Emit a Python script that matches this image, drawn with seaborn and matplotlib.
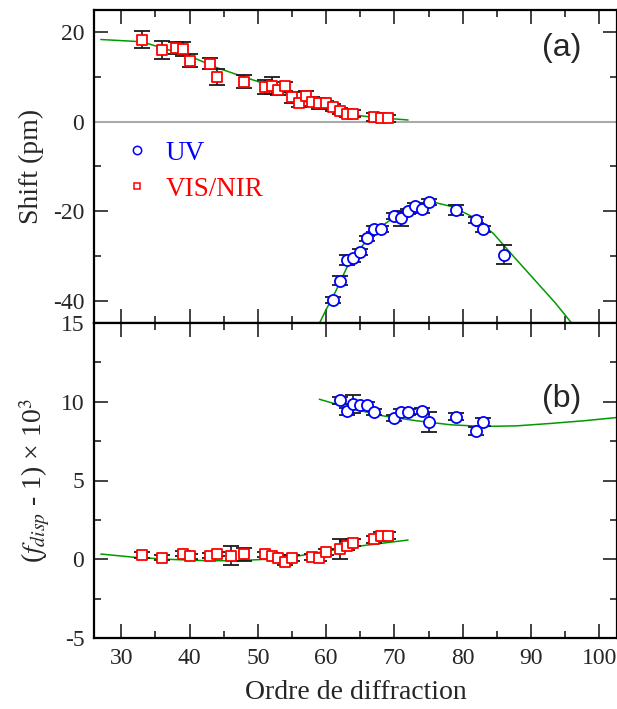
import numpy as np
import pandas as pd
import seaborn as sns
import matplotlib.pyplot as plt
from matplotlib.lines import Line2D
from matplotlib.ticker import MultipleLocator

# --- (a) shift, VIS/NIR orders
vis_order_a = [33, 36, 38, 39, 40, 43, 44, 48, 51, 52, 53, 54, 55, 56, 57, 58, 59, 60, 61, 62, 63, 64, 67, 68, 69]
vis_shift = [18.4, 16.1, 16.5, 16.3, 13.7, 13.0, 10.0, 9.0, 7.8, 8.1, 7.0, 7.9, 5.5, 4.2, 5.8, 4.5, 4.1, 4.1,
             3.2, 2.4, 1.8, 1.8, 1.0, 0.8, 0.8]
vis_shift_err = [1.85, 2.0, 1.4, 1.5, 1.5, 1.2, 1.8, 1.4, 1.6, 1.9, 0.9, 1.1, 1.2, 1.0, 1.1, 1.0, 1.3, 0.6,
                 0.7, 0.7, 0.8, 0.8, 0.9, 0.8, 0.8]
# --- (a) shift, UV orders
uv_order_a = [61, 62, 63, 64, 65, 66, 67, 68, 70, 71, 72, 73, 74, 75, 79, 82, 83, 86]
uv_shift = [-39.8, -35.5, -30.9, -30.5, -29.2, -26.1, -24.0, -24.0, -21.1, -21.6, -20.0, -18.8, -19.6,
            -17.9, -19.8, -22.0, -24.0, -29.7]
uv_shift_err = [0.7, 1.0, 1.2, 0.8, 0.7, 0.6, 0.7, 0.7, 0.7, 1.7, 0.6, 0.7, 0.8, 0.6, 1.1, 0.6, 0.6, 2.1]

# fitted curves (a)
fit_vis_x_a = [27, 33, 36, 40, 44, 48, 51, 55, 59, 63, 67, 72]
fit_vis_y_a = [18.4, 17.9, 16.5, 14.7, 12.1, 10.0, 8.5, 5.8, 3.2, 1.7, 1.0, 0.4]
fit_uv_x_a = [59, 60, 61.5, 63, 65, 67, 70, 73, 75.5, 78.5, 81.5, 84.5, 87.5, 90.5, 93.5, 96]
fit_uv_y_a = [-45.1, -42.0, -37.6, -32.7, -28.3, -24.6, -21.3, -18.7, -17.9, -19.0, -21.3, -25.0,
              -30.2, -35.3, -40.4, -45.1]

# --- (b) (f_disp - 1) x 1e3
vis_order_b = [33, 36, 39, 40, 43, 44, 46, 48, 51, 52, 53, 54, 55, 58, 59, 60, 62, 63, 64, 67, 68, 69]
vis_fdisp = [0.27, 0.10, 0.36, 0.19, 0.23, 0.33, 0.23, 0.31, 0.33, 0.23, 0.10, -0.17, 0.06, 0.14, 0.06,
             0.46, 0.65, 0.86, 1.06, 1.26, 1.47, 1.5]
vis_fdisp_err = [0.19, 0.15, 0.16, 0.16, 0.16, 0.15, 0.58, 0.4, 0.16, 0.16, 0.16, 0.2, 0.2, 0.2, 0.2,
                 0.2, 0.66, 0.28, 0.2, 0.22, 0.24, 0.2]
uv_order_b = [62, 63, 64, 65, 66, 67, 70, 71, 72, 74, 75, 79, 82, 83]
uv_fdisp = [10.09, 9.40, 9.84, 9.80, 9.80, 9.35, 8.94, 9.35, 9.35, 9.40, 8.72, 9.06, 8.12, 8.70]
uv_fdisp_err = [0.21, 0.21, 0.58, 0.17, 0.17, 0.16, 0.19, 0.19, 0.2, 0.2, 0.65, 0.25, 0.26, 0.26]

fit_vis_x_b = [27, 31.8, 36.7, 41.6, 46.4, 51.3, 56.2, 61.1, 66, 72]
fit_vis_y_b = [0.33, 0.13, 0.0, -0.08, -0.1, 0.0, 0.23, 0.59, 0.9, 1.22]
fit_uv_x_b = [59, 64, 68.4, 73.3, 78.2, 83, 87.9, 92.8, 97.7, 102.6]
fit_uv_y_b = [10.16, 9.53, 9.1, 8.79, 8.54, 8.43, 8.47, 8.62, 8.79, 9.0]

sns.set_theme(style="ticks")
plt.rcParams['font.family'] = ['Liberation Serif', 'DejaVu Serif']
plt.rcParams['mathtext.fontset'] = 'stix'
plt.rcParams['axes.unicode_minus'] = False

fig = plt.figure(figsize=(6.17, 7.09), dpi=100)
W, H = 617, 709
ax1 = fig.add_axes([94 / W, (H - 323) / H, 523 / W, 313 / H])
ax2 = fig.add_axes([94 / W, (H - 638) / H, 523 / W, 315 / H])

green = '#009a00'
ms_c, ms_s = 8, 7


def draw(ax, x, y, err, marker, color, ms):
    ax.errorbar(x, y, yerr=err, fmt='none', ecolor='#1a1a1a', elinewidth=1.2, capsize=6, capthick=1.3, zorder=2)
    df = pd.DataFrame({'x': x, 'y': y})
    sns.scatterplot(data=df, x='x', y='y', ax=ax, marker=marker, s=ms ** 2, facecolor='white',
                    edgecolor=color, linewidth=1.3, zorder=3, legend=False)


def curve(ax, x, y):
    df = pd.DataFrame({'x': x, 'y': y})
    sns.lineplot(data=df, x='x', y='y', ax=ax, color=green, lw=1.1, sort=False, estimator=None, zorder=1.5)


# panel (a)
ax1.axhline(0, color='#aaaaaa', lw=1.5, zorder=1)
curve(ax1, fit_vis_x_a, fit_vis_y_a)
curve(ax1, fit_uv_x_a, fit_uv_y_a)
draw(ax1, vis_order_a, vis_shift, vis_shift_err, 's', 'red', ms_s)
draw(ax1, uv_order_a, uv_shift, uv_shift_err, 'o', 'blue', ms_c)
ax1.set_ylim(-45, 25)
ax1.yaxis.set_major_locator(MultipleLocator(20))
ax1.yaxis.set_minor_locator(MultipleLocator(10))
ax1.set_ylabel('Shift (pm)', fontsize=20, labelpad=6)
ax1.text(0.895, 0.88, '(a)', transform=ax1.transAxes, fontsize=23, family='Liberation Sans',
         ha='center', va='center')

handles = [Line2D([], [], ls='none', marker='o', mfc='white', mec='blue', ms=6, mew=1.1),
           Line2D([], [], ls='none', marker='s', mfc='white', mec='red', ms=5, mew=1.1)]
ax1.legend(handles, ['UV', 'VIS/NIR'], loc='upper left', bbox_to_anchor=(0.005, 0.66), frameon=False,
           fontsize=19.5, labelcolor=['blue', 'red'], handletextpad=0.45, labelspacing=0.4, handlelength=1.2)

# panel (b)
curve(ax2, fit_vis_x_b, fit_vis_y_b)
curve(ax2, fit_uv_x_b, fit_uv_y_b)
draw(ax2, vis_order_b, vis_fdisp, vis_fdisp_err, 's', 'red', ms_s)
draw(ax2, uv_order_b, uv_fdisp, uv_fdisp_err, 'o', 'blue', ms_c)
ax2.set_ylim(-5, 15)
ax2.yaxis.set_major_locator(MultipleLocator(5))
ax2.yaxis.set_minor_locator(MultipleLocator(2.5))
ax2.set_ylabel(r'($f_{disp}$ - 1) × 10$^3$', fontsize=20, labelpad=6)
ax2.set_xlabel('Ordre de diffraction', fontsize=20, labelpad=8)
ax2.text(0.895, 0.76, '(b)', transform=ax2.transAxes, fontsize=23, family='Liberation Sans',
         ha='center', va='center')

for ax in (ax1, ax2):
    ax.set_xlim(26, 102.6)
    ax.xaxis.set_major_locator(MultipleLocator(10))
    ax.xaxis.set_minor_locator(MultipleLocator(5))
    ax.tick_params(which='both', direction='in', top=True, right=True, labelsize=17, color='#222222')
    ax.tick_params(which='major', length=10, width=1.2, pad=7)
    ax.tick_params(which='minor', length=5, width=1.2)
    for s in ax.spines.values():
        s.set_linewidth(1.6)
        s.set_color('black')
    if ax is ax1:
        ax.set_xlabel('')
        ax.tick_params(labelbottom=False)

fig.savefig('out.png', dpi=100)
